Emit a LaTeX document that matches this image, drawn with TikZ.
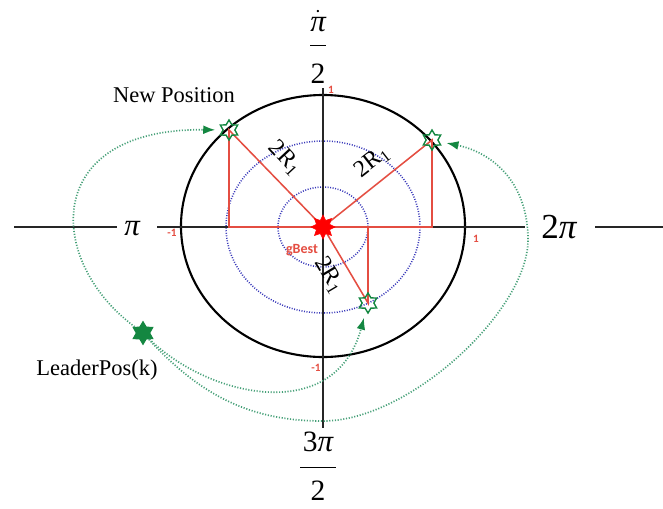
\documentclass[tikz,border=0pt]{standalone}
\usepackage{amsmath}
\usepackage{fontspec}
\setmainfont{Liberation Serif}
\newfontfamily\tickfont{Carlito}
\usetikzlibrary{
    arrows.meta,
    shapes.geometric
}
\definecolor{leafgreen}{RGB}{20,135,65}
\definecolor{trailgreen}{RGB}{70,160,120}
\definecolor{legred}{RGB}{228,78,66}
\definecolor{orbitblue}{RGB}{55,55,185}
\newcommand{\bigpi}{\mbox{\fontsize{22}{24}\selectfont\itshape π}}

\begin{document}
\begin{tikzpicture}[
  x=0.025cm, y=-0.025cm,
  axis/.style={line width=1.5pt,black!85},
  rim/.style={line width=1.5pt},
  orbit/.style={orbitblue,line width=1.1pt,dash pattern=on 0.7pt off 1.1pt},
  leg/.style={legred,line width=1.1pt},
  hop/.style={trailgreen,line width=1.2pt,dash pattern=on 0.8pt off 1.2pt,
    -{Latex[length=3mm,width=2.2mm,color=leafgreen]},shorten >=5pt},
  candidate/.style={star,star points=6,star point ratio=1.7,draw=leafgreen,
    line width=1pt,minimum size=0.5cm,inner sep=0pt},
  ticklabel/.style={text=legred,font=\tickfont\bfseries\fontsize{8}{9}\selectfont,inner sep=0pt},
  note/.style={font=\fontsize{16}{18}\selectfont},
  turnlabel/.style={font=\fontsize{21}{24}\selectfont,inner sep=0pt},
  radlabel/.style={font=\fontsize{17}{19}\selectfont,inner sep=0pt}
]
\useasboundingbox (0,0) rectangle (663,508);

\coordinate (xa) at (14,227);
\coordinate (xb) at (117,227);
\coordinate (xc) at (157,227);
\coordinate (xd) at (525,227);
\coordinate (xe) at (595,227);
\coordinate (xf) at (663,227);
\coordinate (yt) at (323,88);
\coordinate (yb) at (323,428);
\coordinate (g) at (323,227);
\coordinate (p1) at (229,130);
\coordinate (p2) at (432,140);
\coordinate (p3) at (368,303);

\draw[orbit] (g) ellipse [x radius=45, y radius=40];
\draw[orbit] (g) ellipse [x radius=97, y radius=86];
\draw[rim] (323,226) ellipse [x radius=142, y radius=131];
\draw[axis] (xa) -- (xb) (xc) -- (xd) (xe) -- (xf) (yt) -- (yb);

\draw[leg] (g) -- (p1) -- (p1 |- g) -- (p2 |- g) -- (p2) -- (g) -- (p3) -- (p3 |- g);

\node[star,star points=8,star point ratio=1.7,fill=red,draw=red,
  minimum size=0.6cm,inner sep=0pt] (gbest) at (g) {};
\node[candidate] (np1) at (p1) {};
\node[candidate] (np2) at (p2) {};
\node[candidate] (np3) at (p3) {};
\node[candidate,fill=leafgreen,minimum size=0.55cm] (leader) at (143,333) {};

\node[radlabel,rotate=-47] (rtl) at (285,158) {2R\textsubscript{1}};
\node[radlabel,rotate=38] (rtr) at (372,162) {2R\textsubscript{1}};
\node[radlabel,rotate=-59] (rbot) at (329,275) {2R\textsubscript{1}};
\node[ticklabel,font=\tickfont\bfseries\fontsize{10}{11}\selectfont] (gname) at (302,250) {gBest};

\node[ticklabel] (ttop) at (331,90) {1};
\node[ticklabel] (tbot) at (316,368) {-1};
\node[ticklabel] (tleft) at (172,233) {-1};
\node[ticklabel] (tright) at (476,239) {1};

\node[turnlabel,font=\fontsize{18}{22}\selectfont] (pilab) at (132,229) {\bigpi};
\node[turnlabel,font=\fontsize{25}{27}\selectfont] (twopilab) at (559,227) {2\itshape π};
\node[turnlabel,anchor=base] (halfpi) at (318,52.4)
  {$\dfrac{\dot{\bigpi}\rule[-6.7pt]{0pt}{0pt}}{\rule{0pt}{24.5pt}\mbox{2}}$};
\node[turnlabel,anchor=base] (threehalfpi) at (318,474.4)
  {$\dfrac{\hspace{2pt}\mbox{3}\bigpi\hspace{2pt}\rule[-8.2pt]{0pt}{0pt}}{\rule{0pt}{20.8pt}\mbox{2}}$};

\node[note] (newpos) at (174,95) {New Position};
\node[note] (leadpos) at (97,370) {LeaderPos(k)};

\draw[hop] (leader) .. controls (45,260) and (42,128) .. (np1);
\draw[hop] (leader) .. controls (210,398) and (335,425) .. (np3);
\draw[hop] (leader) .. controls (200,395) and (250,421) .. (323,421)
  .. controls (410,421) and (528,310) .. (528,240)
  .. controls (528,180) and (490,152) .. (np2);
\end{tikzpicture}
\end{document}
